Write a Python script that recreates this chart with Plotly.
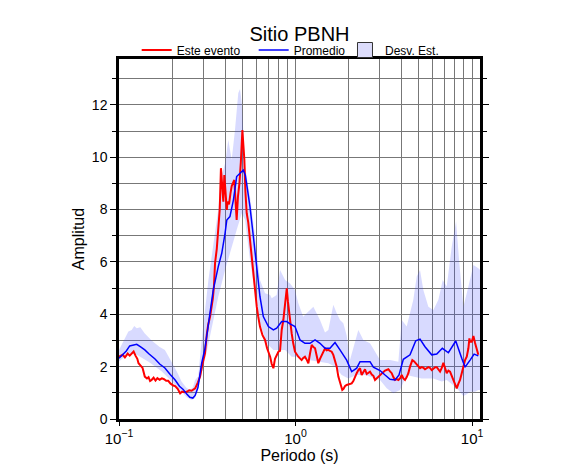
import plotly.graph_objects as go

# --- data ---
# Este evento (red)
t_evento = [0.100, 0.105, 0.108, 0.112, 0.115, 0.118, 0.121, 0.124, 0.127, 0.129,
            0.133, 0.136, 0.140, 0.144, 0.147, 0.150, 0.153, 0.157, 0.161, 0.165,
            0.170, 0.175, 0.180, 0.185, 0.190, 0.196, 0.203, 0.208, 0.215, 0.222,
            0.228, 0.235, 0.242, 0.250, 0.258, 0.265, 0.270, 0.280, 0.288, 0.297,
            0.307, 0.314, 0.320, 0.328, 0.335, 0.340, 0.345, 0.350, 0.358, 0.365,
            0.372, 0.378, 0.383, 0.386, 0.390, 0.395, 0.400, 0.408, 0.412, 0.420,
            0.428, 0.435, 0.450, 0.457, 0.464, 0.472, 0.481, 0.490, 0.500, 0.506,
            0.513, 0.520, 0.529, 0.540, 0.552, 0.565, 0.577, 0.590, 0.603, 0.615,
            0.629, 0.650, 0.672, 0.690, 0.718, 0.733, 0.749, 0.765, 0.782, 0.800,
            0.817, 0.835, 0.853, 0.875, 0.892, 0.905, 0.919, 0.935, 0.951, 0.970,
            0.993, 1.037, 1.060, 1.083, 1.106, 1.131, 1.160, 1.182, 1.208, 1.235,
            1.262, 1.290, 1.320, 1.346, 1.376, 1.406, 1.440, 1.469, 1.500, 1.535,
            1.568, 1.603, 1.637, 1.674, 1.711, 1.748, 1.790, 1.840, 1.870, 1.905,
            1.948, 1.991, 2.035, 2.080, 2.125, 2.172, 2.221, 2.269, 2.319, 2.370,
            2.421, 2.475, 2.530, 2.585, 2.642, 2.702, 2.761, 2.821, 2.880, 2.946,
            3.011, 3.078, 3.150, 3.214, 3.285, 3.357, 3.431, 3.507, 3.582, 3.662,
            3.742, 3.824, 3.909, 3.996, 4.080, 4.171, 4.264, 4.356, 4.453, 4.589,
            4.700, 4.797, 4.950, 5.072, 5.184, 5.297, 5.414, 5.534, 5.655, 5.781,
            5.909, 6.038, 6.180, 6.310, 6.446, 6.590, 6.736, 6.878, 7.030, 7.186,
            7.344, 7.505, 7.671, 7.838, 8.013, 8.188, 8.370, 8.549, 8.740, 8.931,
            9.129, 9.331, 9.534, 9.658, 9.745, 9.960, 10.18, 10.40, 10.60, 10.85]
a_evento = [2.38, 2.45, 2.35, 2.50, 2.42, 2.51, 2.58, 2.42, 2.30, 2.13,
            2.00, 1.95, 1.62, 1.55, 1.60, 1.45, 1.49, 1.58, 1.47, 1.56,
            1.50, 1.55, 1.52, 1.46, 1.46, 1.35, 1.28, 1.26, 1.15, 0.98,
            1.05, 1.02, 1.04, 1.10, 1.08, 1.14, 1.17, 1.40, 1.62, 2.10,
            2.51, 3.20, 3.60, 3.91, 4.30, 4.60, 5.06, 5.95, 6.50, 7.48,
            8.00, 9.58, 8.90, 8.50, 8.30, 9.32, 8.60, 7.99, 8.30, 8.20,
            8.62, 8.90, 9.13, 8.40, 7.60, 8.50, 9.00, 9.80, 11.04, 10.50,
            9.90, 8.70, 7.86, 7.50, 6.84, 6.20, 5.63, 5.00, 4.29, 3.90,
            3.53, 3.20, 3.02, 2.70, 2.38, 2.10, 1.94, 2.30, 2.45, 2.57,
            2.60, 3.40, 3.78, 4.60, 4.99, 4.50, 4.04, 3.50, 3.27, 2.90,
            2.57, 2.38, 2.30, 2.25, 2.33, 2.38, 2.25, 2.13, 2.50, 2.83,
            2.75, 2.70, 2.40, 2.13, 2.30, 2.45, 2.60, 2.70, 2.62, 2.64,
            2.60, 2.57, 2.45, 2.19, 2.00, 1.62, 1.35, 1.11, 1.15, 1.25,
            1.30, 1.33, 1.36, 1.36, 1.45, 1.62, 1.75, 1.87, 1.94, 1.68,
            1.80, 1.90, 1.72, 1.78, 1.81, 1.70, 1.65, 1.49, 1.55, 1.64,
            1.70, 1.77, 1.80, 1.85, 1.88, 1.90, 1.82, 1.75, 1.60, 1.49,
            1.52, 1.49, 1.55, 1.68, 1.55, 1.49, 1.60, 1.75, 2.00, 2.25,
            2.20, 2.13, 2.05, 1.94, 1.98, 1.96, 1.90, 1.93, 1.98, 1.95,
            1.87, 1.92, 1.98, 1.98, 1.90, 1.81, 1.95, 2.15, 1.95, 1.75,
            1.85, 1.81, 1.65, 1.49, 1.35, 1.17, 1.35, 1.49, 1.75, 2.06,
            2.25, 2.38, 2.70, 3.08, 2.95, 2.95, 3.17, 2.90, 2.70, 2.45]

# Promedio (blue)
t_prom = [0.100, 0.105, 0.110, 0.115, 0.120, 0.126, 0.132, 0.140, 0.147, 0.153,
          0.160, 0.170, 0.182, 0.195, 0.208, 0.220, 0.231, 0.242, 0.252, 0.262,
          0.270, 0.280, 0.294, 0.307, 0.325, 0.342, 0.365, 0.382, 0.399, 0.408,
          0.425, 0.445, 0.464, 0.485, 0.506, 0.520, 0.529, 0.552, 0.577, 0.603,
          0.629, 0.657, 0.702, 0.749, 0.782, 0.835, 0.892, 0.931, 0.993, 1.060,
          1.131, 1.208, 1.290, 1.376, 1.469, 1.568, 1.674, 1.786, 1.948, 2.080,
          2.221, 2.319, 2.421, 2.530, 2.642, 2.761, 3.011, 3.214, 3.431, 3.662,
          3.857, 4.080, 4.453, 4.797, 5.072, 5.414, 5.909, 6.310, 6.787, 7.344,
          8.085, 8.740, 9.129, 9.745, 10.27, 10.85]
a_prom = [2.32, 2.45, 2.60, 2.79, 2.82, 2.85, 2.76, 2.64, 2.50, 2.40,
          2.29, 2.10, 1.95, 1.70, 1.49, 1.25, 1.13, 0.95, 0.83, 0.80,
          0.90, 1.20, 2.13, 2.70, 3.78, 4.93, 5.82, 6.33, 7.10, 7.60,
          7.73, 8.37, 9.26, 9.39, 9.51, 9.30, 9.00, 8.11, 6.97, 5.82,
          4.67, 3.91, 3.53, 3.40, 3.47, 3.72, 3.72, 3.63, 3.53, 3.02,
          2.89, 2.89, 3.02, 2.89, 2.70, 2.70, 2.92, 2.64, 2.25, 1.81,
          1.94, 2.19, 2.19, 2.19, 2.19, 1.98, 1.85, 1.68, 1.52, 1.49,
          1.68, 2.28, 2.45, 2.99, 3.05, 2.76, 2.45, 2.48, 2.70, 2.53,
          2.98, 2.32, 1.98, 2.25, 2.48, 2.41]

# Desv. Est. band (upper / lower edge)
t_sup = [0.100, 0.105, 0.110, 0.113, 0.118, 0.122, 0.126, 0.132, 0.140, 0.147,
         0.153, 0.160, 0.170, 0.182, 0.195, 0.203, 0.215, 0.226, 0.240, 0.252,
         0.262, 0.270, 0.281, 0.294, 0.321, 0.350, 0.365, 0.378, 0.399, 0.416,
         0.435, 0.454, 0.474, 0.485, 0.496, 0.518, 0.552, 0.590, 0.629, 0.672,
         0.718, 0.733, 0.782, 0.817, 0.873, 0.931, 0.993, 1.037, 1.106, 1.156,
         1.262, 1.376, 1.469, 1.535, 1.637, 1.711, 1.786, 1.865, 1.948, 2.035,
         2.172, 2.269, 2.421, 2.642, 3.011, 3.431, 3.824, 3.996, 4.264, 4.648,
         4.859, 5.072, 5.297, 5.655, 6.038, 6.446, 6.822, 7.186, 7.671, 8.117,
         8.470, 8.931, 9.534, 10.18, 10.85, 11.1]
a_sup = [2.64, 2.90, 3.20, 3.34, 3.40, 3.55, 3.47, 3.50, 3.27, 3.10,
         3.00, 2.89, 2.75, 2.64, 2.30, 2.06, 1.75, 1.43, 1.20, 1.11,
         1.20, 1.49, 1.62, 3.02, 5.31, 7.22, 8.00, 9.20, 9.77, 10.66,
         9.90, 11.04, 12.45, 12.60, 12.06, 9.64, 8.50, 6.97, 5.31, 4.80,
         4.74, 4.61, 4.74, 5.69, 5.31, 5.18, 4.93, 4.42, 3.91, 4.04,
         4.29, 3.78, 3.30, 3.40, 4.36, 4.04, 3.78, 3.66, 3.20, 2.25,
         2.89, 3.40, 3.02, 2.89, 2.25, 2.25, 2.19, 3.78, 3.53, 4.55,
         5.44, 5.69, 4.93, 4.29, 4.16, 4.55, 5.31, 5.06, 6.58, 7.54,
         5.95, 4.29, 5.06, 5.88, 5.76, 5.70]

t_inf = [0.100, 0.113, 0.126, 0.147, 0.175, 0.208, 0.242, 0.258, 0.270, 0.281,
         0.307, 0.335, 0.365, 0.399, 0.435, 0.464, 0.496, 0.518, 0.552, 0.590,
         0.629, 0.687, 0.749, 0.800, 0.873, 0.951, 1.037, 1.182, 1.346, 1.535,
         1.674, 1.826, 1.991, 2.221, 2.475, 2.642, 3.011, 3.285, 3.582, 3.909,
         4.264, 5.184, 6.038, 6.736, 7.186, 8.013, 8.188, 8.931, 9.331, 9.745,
         10.40, 10.85, 11.1]
a_inf = [2.20, 2.51, 2.45, 2.19, 1.81, 1.30, 0.83, 0.73, 0.80, 1.23,
         2.25, 3.40, 4.67, 5.69, 6.58, 7.22, 7.86, 7.60, 6.08, 4.80,
         3.66, 2.89, 2.64, 2.64, 2.64, 2.38, 2.38, 2.25, 2.19, 2.13,
         2.00, 1.68, 1.55, 1.68, 1.68, 1.62, 1.49, 1.17, 0.98, 1.11,
         1.68, 1.55, 1.55, 1.43, 1.49, 1.23, 1.17, 0.88, 0.95, 1.04,
         1.04, 1.11, 1.11]

x_major = [0.1, 1, 10]
x_major_text = ["10<sup>\u22121</sup>", "10<sup>0</sup>", "10<sup>1</sup>"]
x_minor = [0.2, 0.3, 0.4, 0.5, 0.6, 0.7, 0.8, 0.9, 2, 3, 4, 5, 6, 7, 8, 9]

FONT = "Liberation Sans, Arial, Helvetica, sans-serif"
BAND_FILL = "rgba(60,70,255,0.2)"
GRID = "#777777"
x_range = [-1, 1.045]

fig = go.Figure()

# std-dev band as a closed polygon
fig.add_trace(go.Scatter(
    x=t_sup + t_inf[::-1],
    y=a_sup + a_inf[::-1],
    fill="toself", fillcolor=BAND_FILL,
    line=dict(width=0), mode="lines",
    showlegend=False, hoverinfo="skip"
))

fig.add_trace(go.Scatter(
    x=t_evento, y=a_evento, mode="lines", name="Este evento",
    line=dict(color="#ff0000", width=2)
))

fig.add_trace(go.Scatter(
    x=t_prom, y=a_prom, mode="lines", name="Promedio",
    line=dict(color="#0000ff", width=1.5)
))

# legend entry for the band (own legend so it can sit closer)
fig.add_trace(go.Scatter(
    x=[None], y=[None], mode="markers", name="Desv. Est.", legend="legend2",
    marker=dict(symbol="square", size=15, color="#dcdcfb",
                line=dict(color="#333333", width=1))
))

legend_common = dict(orientation="h", xanchor="left", y=1.025, yanchor="middle",
                     font=dict(size=12), itemwidth=30, bgcolor="rgba(0,0,0,0)",
                     tracegroupgap=0)

fig.update_layout(
    width=586, height=475,
    paper_bgcolor="white", plot_bgcolor="white",
    font=dict(family=FONT, size=14, color="black"),
    margin=dict(l=119, r=106, t=59, b=56, autoexpand=False),
    title=dict(text="Sitio PBNH", x=0.5, xref="paper", xanchor="center",
               y=1 - 34 / 475, yref="container", yanchor="middle",
               font=dict(size=20)),
    legend=dict(x=0.049, entrywidth=72, entrywidthmode="pixels", **legend_common),
    legend2=dict(x=0.626, **legend_common),
    showlegend=True,
)

fig.update_xaxes(
    type="log", range=x_range,
    tickmode="array", tickvals=x_major, ticktext=x_major_text,
    ticks="outside", ticklen=4, tickwidth=1, tickcolor="black",
    showgrid=True, gridcolor=GRID, gridwidth=1,
    minor=dict(tickmode="array", tickvals=x_minor, showgrid=True,
               gridcolor=GRID, gridwidth=1, ticks=""),
    showline=True, linecolor="black", linewidth=2.5, mirror=True,
    zeroline=False, automargin=False,
    title=dict(text="Periodo (s)", font=dict(size=16), standoff=4),
    tickfont=dict(size=15),
)

fig.update_yaxes(
    range=[0, 13.75], dtick=2, tick0=0,
    ticks="outside", ticklen=6, tickwidth=1, tickcolor="black",
    showgrid=True, gridcolor=GRID, gridwidth=1,
    minor=dict(dtick=1, showgrid=True, gridcolor=GRID, gridwidth=1,
               ticks="outside", ticklen=4, tickcolor="black"),
    showline=True, linecolor="black", linewidth=2.5, mirror="allticks",
    zeroline=False, automargin=False,
    title=dict(text="Amplitud", font=dict(size=16), standoff=4),
    tickfont=dict(size=14),
)

# ticks along the top frame at every grid position
fig.update_layout(
    xaxis2=dict(
        type="log", range=x_range, overlaying="x", side="top",
        tickmode="array", tickvals=x_major + x_minor,
        ticks="outside", ticklen=5, tickcolor="black",
        showticklabels=False, showgrid=False, zeroline=False,
        automargin=False,
    )
)

# page has a default body margin; drop it so the figure sits at the corner
fig.write_html("out.html",
               config={"displayModeBar": False},
               post_script="document.body.style.margin='0px';"
                           "document.body.style.overflow='hidden';")
